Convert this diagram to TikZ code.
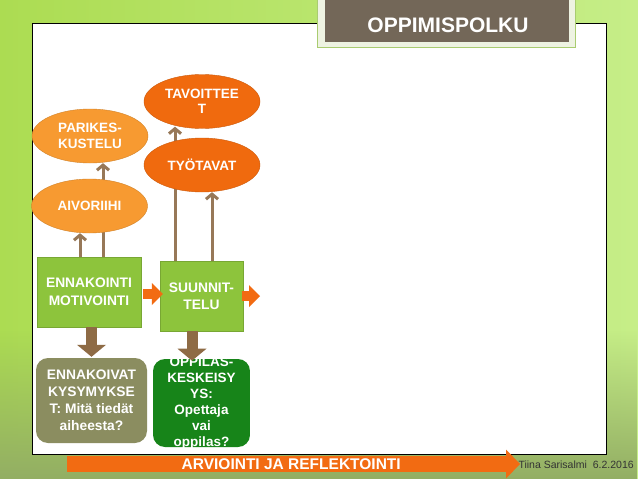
\documentclass[tikz,border=0pt]{standalone}
\usepackage{fontspec}
\setmainfont{Liberation Sans}
\usetikzlibrary{shapes.geometric,arrows.meta,fadings}

\definecolor{bgleft}{HTML}{ACDC52}
\definecolor{bgright}{HTML}{C6EE88}
\definecolor{bgolive}{HTML}{93AE64}
\definecolor{titlebrown}{HTML}{736758}
\definecolor{titleframe}{HTML}{EEF3E2}
\definecolor{titleedge}{HTML}{A9CC70}
\definecolor{lightorange}{HTML}{F79A31}
\definecolor{darkorange}{HTML}{F06A0E}
\definecolor{stepgreen}{HTML}{8DC43C}
\definecolor{olivegrey}{HTML}{8B8D60}
\definecolor{deepgreen}{HTML}{178419}
\definecolor{linkbrown}{HTML}{977858}
\definecolor{blockbrown}{HTML}{8E6B45}
\definecolor{blockorange}{HTML}{F26B12}

\pgfdeclarelayer{back}
\pgfdeclarelayer{links}
\pgfsetlayers{back,links,main}

\tikzset{
  idea/.style={ellipse, minimum width=116pt, minimum height=54pt, inner sep=0pt,
    text=white, align=center, font=\bfseries\fontsize{13.5}{15.5}\selectfont},
  lightidea/.style={idea, fill=lightorange, draw=lightorange!85!black},
  darkidea/.style={idea, fill=darkorange, draw=darkorange!85!black},
  phase/.style={rectangle, fill=stepgreen, draw=stepgreen!85!black, minimum height=70pt,
    inner sep=0pt, text=white, align=center, font=\bfseries\fontsize{13.8}{18}\selectfont},
  question/.style={rectangle, rounded corners=12pt, inner sep=0pt, text=white,
    align=center, font=\bfseries\fontsize{13.8}{17}\selectfont},
  link/.style={draw=linkbrown, line width=3pt, -{Straight Barb[length=5pt,width=12pt]}},
  orangeblock/.style={draw=blockorange, line width=10pt,
    -{Triangle[length=11pt,width=22pt,line width=0pt]}},
  brownblock/.style={draw=blockbrown, line width=11pt,
    -{Triangle[length=12pt,width=29pt,line width=0pt]}},
}

\begin{document}
\begin{tikzpicture}[x=1pt,y=-1pt]
\useasboundingbox (0,0) rectangle (638,479);

\begin{pgfonlayer}{back}
% background and white panel
\shade[left color=bgleft, right color=bgright] (0,0) rectangle (638,479);
\fill[bgolive, path fading=north] (0,330) rectangle (638,479);
\draw[fill=white, line width=1pt] (32,23) rectangle (606,454);
% title
\draw[fill=titleframe, draw=titleedge, line width=1pt] (317,-1) rectangle (575,47);
\fill[titlebrown] (325,-1) rectangle (569,42);
\node[text=white, font=\bfseries\fontsize{21}{24}\selectfont] (title) at (448,25) {OPPIMISPOLKU};
\end{pgfonlayer}

% ideas
\node[darkidea] (tavo) at (202,101.5) {TAVOITTEE\\T};
\node[lightidea] (pari) at (90,136) {PARIKES-\\KUSTELU};
\node[darkidea] (tyo) at (202,165) {TYÖTAVAT};
\node[lightidea] (aivo) at (89.5,206) {AIVORIIHI};

% phases
\node[phase, minimum width=104pt] (ennak) at (89,292) {ENNAKOINTI\\MOTIVOINTI};
\node[phase, minimum width=83pt, font=\bfseries\fontsize{13.8}{17}\selectfont] (suun) at (201.5,296) {SUUNNIT-\\TELU};
\coordinate (nextstep) at (260,296);

% questions
\node[question, fill=olivegrey, minimum width=111pt, minimum height=85pt] (kysy) at (91.5,400.5)
  {ENNAKOIVAT\\KYSYMYKSE\\T: Mitä tiedät\\aiheesta?};
\begin{scope}
\clip[rounded corners=12pt] (153,359) rectangle (250,447);
\node[question, fill=deepgreen, minimum width=97pt, minimum height=88pt,
  font=\bfseries\fontsize{13.5}{16}\selectfont] (oppi) at (201.5,403)
  {OPPILAS-\\KESKEISY\\YS:\\Opettaja\\vai\\oppilas?};
\end{scope}

\begin{pgfonlayer}{links}
\draw[link] ([xshift=-9pt]ennak.north) -- ([xshift=-9pt]ennak.north |- aivo.south);
\draw[link] ([xshift=14pt]ennak.north) -- ([xshift=14pt]ennak.north |- pari.south);
\draw[link] ([xshift=-26.5pt]suun.north) -- ([xshift=-26.5pt,yshift=2pt]suun.north |- tavo.south);
\draw[link] ([xshift=10.5pt]suun.north) -- ([xshift=10.5pt]suun.north |- tyo.south);
\end{pgfonlayer}

% block arrows
\draw[orangeblock] ([xshift=2pt,yshift=-2pt]ennak.east) -- ([xshift=3pt,yshift=-2pt]ennak.east -| suun.west);
\draw[orangeblock] ([xshift=-1pt]suun.east) -- (nextstep);
\draw[brownblock] (kysy.north |- ennak.south) -- ([yshift=1pt]kysy.north);
\draw[brownblock] ([xshift=-9.5pt]suun.south) -- ([xshift=-9.5pt,yshift=-4pt]suun.south |- oppi.north);

% evaluation arrow
\coordinate (evalstart) at (67,464);
\coordinate (evalend) at (520,464);
\draw[draw=blockorange, line width=16pt, -{Triangle[length=14pt,width=29pt,line width=0pt]}]
  (evalstart) -- node[pos=0.495, text=white, font=\bfseries\fontsize{15.5}{17}\selectfont] (evaltext)
  {ARVIOINTI JA REFLEKTOINTI} (evalend);
\node[anchor=west, text=black!80, font=\fontsize{10.5}{12}\selectfont] (author) at (515,465)
  {Tiina Sarisalmi\ \ 6.2.2016};
\end{tikzpicture}
\end{document}
